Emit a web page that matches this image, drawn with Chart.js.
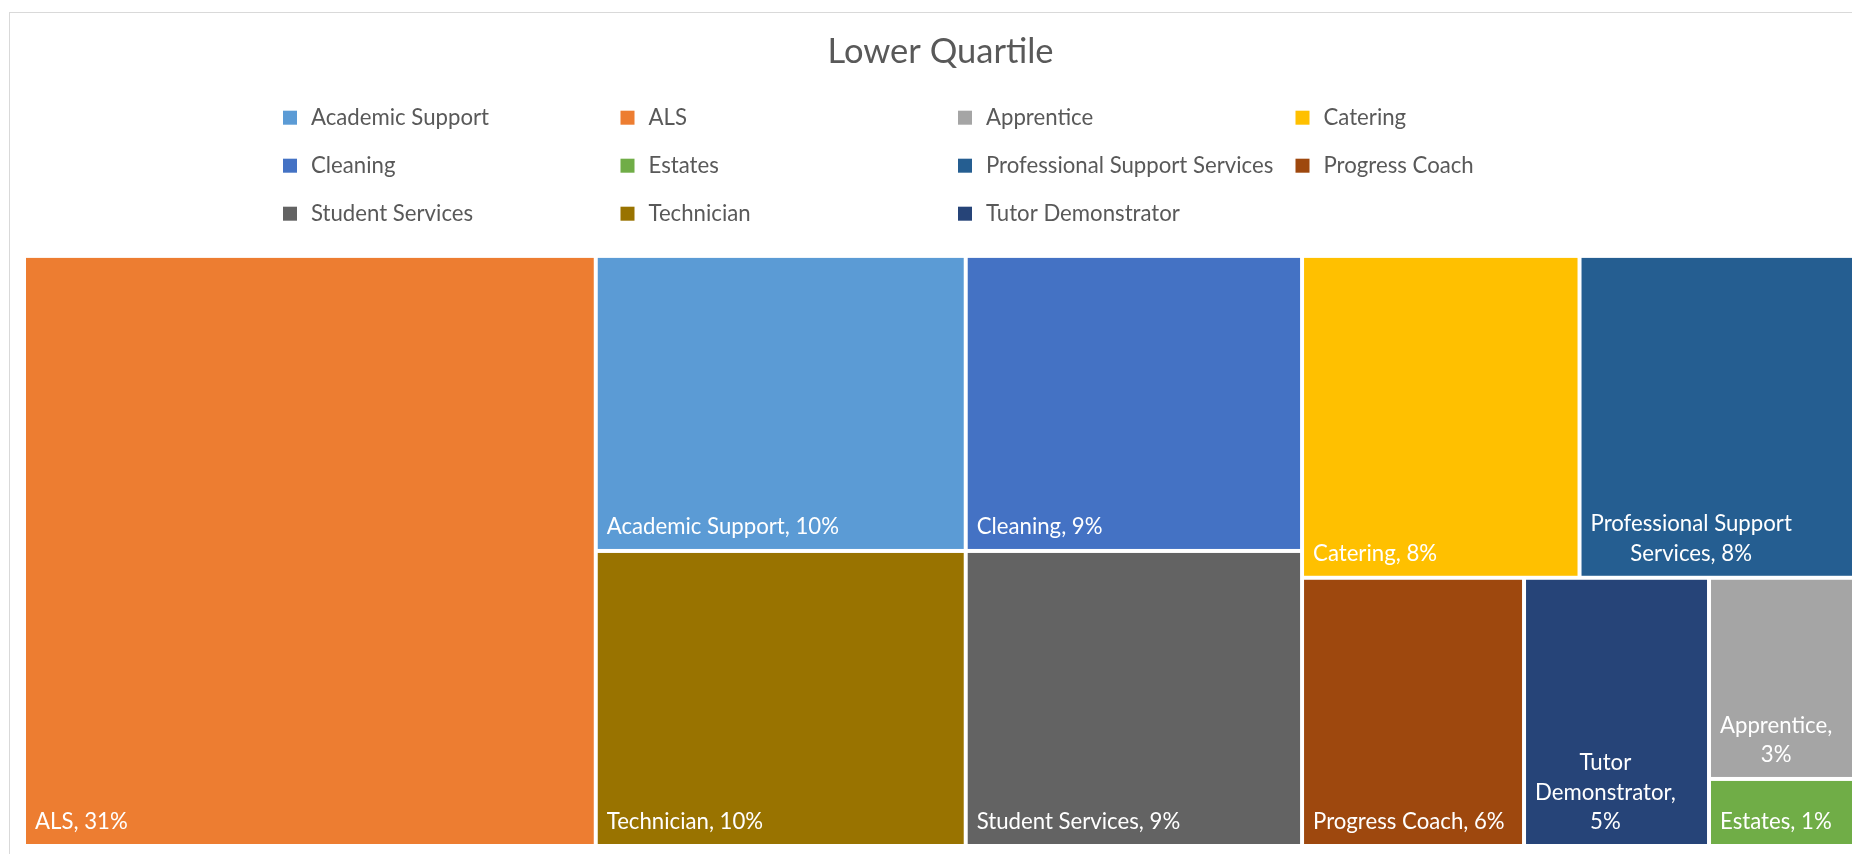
<!DOCTYPE html>
<html>
<head>
<meta charset="utf-8">
<title>Lower Quartile</title>
<script src="https://cdn.jsdelivr.net/npm/chart.js@4.4.1/dist/chart.umd.min.js"></script>
<style>
  html, body { margin: 0; padding: 0; background: #fff; overflow: hidden; }
  #wrap { position: absolute; left: 0; top: 0; width: 1880px; height: 854px; }
</style>
</head>
<body>
<div id="wrap"><canvas id="lowerQuartile" width="1880" height="854"></canvas></div>
<script>
const categories = ['Academic Support', 'ALS', 'Apprentice', 'Catering', 'Cleaning', 'Estates',
    'Professional Support Services', 'Progress Coach', 'Student Services', 'Technician', 'Tutor Demonstrator'];
// headcounts in the lower quartile
const values = [22, 68, 6, 18, 20, 2, 18, 12, 20, 22, 10];
const colours = ['#5B9BD5', '#ED7D31', '#A5A5A5', '#FFC000', '#4472C4', '#70AD47',
    '#255E91', '#9E480E', '#636363', '#997300', '#264478'];

const FONT = 'Lato, "Open Sans", sans-serif';

// squarified layout, worked out in pixels from the scale range
function worst(row, side) {
    const sum = row.reduce((a, r) => a + r.area, 0);
    const max = Math.max(...row.map(r => r.area));
    const min = Math.min(...row.map(r => r.area));
    return Math.max(side * side * max / (sum * sum), (sum * sum) / (side * side * min));
}

function layoutRow(row, rect, out) {
    const sum = row.reduce((a, r) => a + r.area, 0);
    if (rect.w >= rect.h) {
        const w = sum / rect.h;
        let yy = rect.y;
        row.forEach(r => {
            const h = r.area / w;
            out.push({ i: r.i, x: rect.x, y: yy, w: w, h: h });
            yy += h;
        });
        rect.x += w; rect.w -= w;
    } else {
        const h = sum / rect.w;
        let xx = rect.x;
        row.forEach(r => {
            const w = r.area / h;
            out.push({ i: r.i, x: xx, y: rect.y, w: w, h: h });
            xx += w;
        });
        rect.y += h; rect.h -= h;
    }
}

function squarify(items, rect) {
    const out = [];
    let row = [];
    const queue = items.slice();
    while (queue.length) {
        const side = Math.min(rect.w, rect.h);
        const next = queue[0];
        if (!row.length || worst(row.concat([next]), side) <= worst(row, side)) {
            row.push(next);
            queue.shift();
        } else {
            layoutRow(row, rect, out);
            row = [];
        }
    }
    if (row.length) layoutRow(row, rect, out);
    return out;
}

function wrapWords(ctx, text, maxW) {
    const words = text.split(' ');
    const lines = [];
    let line = '';
    words.forEach(w => {
        const test = line ? line + ' ' + w : w;
        if (line && ctx.measureText(test).width > maxW) {
            lines.push(line);
            line = w;
        } else {
            line = test;
        }
    });
    if (line) lines.push(line);
    return lines;
}

const treemapPlugin = {
    id: 'treemap',
    beforeDatasetsDraw(chart) {
        const { ctx } = chart;
        const xs = chart.scales.x, ys = chart.scales.y;
        const left = xs.getPixelForValue(0), right = xs.getPixelForValue(100);
        const top = ys.getPixelForValue(100), bottom = ys.getPixelForValue(0);
        const total = values.reduce((a, b) => a + b, 0);
        const k = (right - left) * (bottom - top) / total;
        const items = categories.map((c, i) => ({ i: i, area: values[i] * k }))
            .sort((a, b) => b.area - a.area || a.i - b.i);
        const cells = squarify(items, { x: left, y: top, w: right - left, h: bottom - top });

        ctx.save();
        cells.forEach(c => {
            const x0 = c.x + 2, y0 = c.y + 2, w = c.w - 4, h = c.h - 4;
            ctx.fillStyle = colours[c.i];
            ctx.fillRect(x0, y0, w, h);

            ctx.font = '22.2px ' + FONT;
            ctx.fillStyle = '#ffffff';
            ctx.textBaseline = 'middle';
            ctx.textAlign = 'center';
            const label = categories[c.i] + ', ' + Math.round(values[c.i] / total * 100) + '%';
            const lines = wrapWords(ctx, label, w - 24);
            const blockW = Math.max(...lines.map(l => ctx.measureText(l).width));
            const cx = x0 + 9 + blockW / 2;
            lines.forEach((l, j) => {
                const yy = y0 + h - 22 - (lines.length - 1 - j) * 29.5;
                ctx.fillText(l, cx, yy);
            });
        });
        ctx.restore();
    },
    afterDraw(chart) {
        const { ctx, chartArea } = chart;
        ctx.save();
        // outer chart frame
        ctx.strokeStyle = '#d9d9d9';
        ctx.lineWidth = 1;
        ctx.strokeRect(9.5, 12.5, 1900, 900);

        // legend in four columns
        const cx = (chartArea.left + chartArea.right) / 2;
        const rowsY = [chartArea.top - 138.2, chartArea.top - 90.2, chartArea.top - 42.2];
        ctx.font = '22.2px ' + FONT;
        ctx.textBaseline = 'middle';
        ctx.textAlign = 'left';
        categories.forEach((name, i) => {
            const col = i % 4, row = Math.floor(i / 4);
            const mx = cx - 657.5 + col * 337.5;
            const my = rowsY[row];
            ctx.fillStyle = colours[i];
            ctx.fillRect(mx, my - 7, 14, 14);
            ctx.fillStyle = '#595959';
            ctx.fillText(name, mx + 28, my);
        });
        ctx.restore();
    }
};

const ctx = document.getElementById('lowerQuartile').getContext('2d');
const chart = new Chart(ctx, {
    type: 'scatter',
    data: {
        datasets: [{
            label: 'Lower Quartile',
            data: []
        }]
    },
    options: {
        responsive: false,
        animation: false,
        layout: {
            padding: { left: 24, right: 23, top: 13, bottom: 8 }
        },
        scales: {
            x: { type: 'linear', min: 0, max: 100, display: false },
            y: { type: 'linear', min: 0, max: 100, display: false }
        },
        plugins: {
            legend: { display: false },
            tooltip: { enabled: false },
            title: {
                display: true,
                text: 'Lower Quartile',
                color: '#595959',
                font: { family: FONT, size: 34.5, weight: 'normal', lineHeight: 1.2 },
                padding: { top: 18.5, bottom: 183 }
            }
        }
    },
    plugins: [treemapPlugin]
});
</script>
</body>
</html>
